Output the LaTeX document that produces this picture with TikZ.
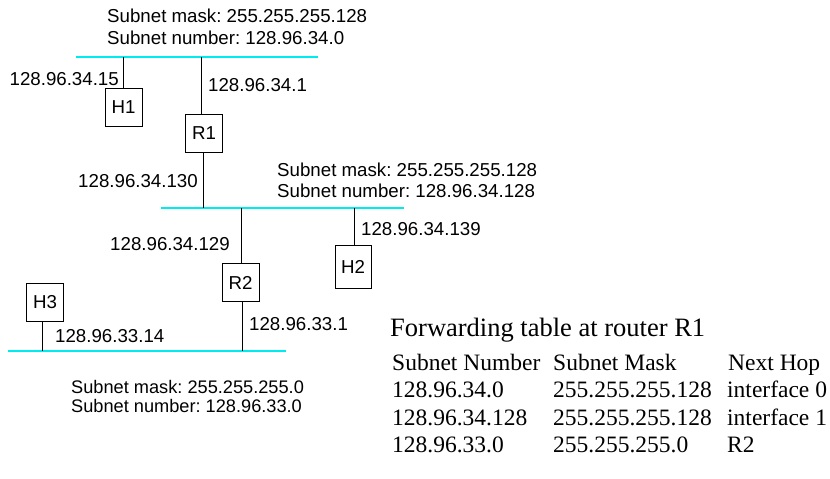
\documentclass[tikz,border=0pt]{standalone}
\usepackage{fontspec}
\setmainfont{Liberation Serif}
\setsansfont{Liberation Sans}
\usetikzlibrary{positioning}
\frenchspacing
\definecolor{lancyan}{RGB}{0,235,240}

\tikzset{
  lan/.style={lancyan, line width=2.2pt},
  link/.style={black, line width=0.9pt},
  hostbox/.style={draw, line width=0.9pt, minimum width=37pt, minimum height=38pt,
    inner sep=0pt, font=\sffamily\fontsize{18.7}{21}\selectfont},
  addr/.style={inner sep=0pt, font=\sffamily\fontsize{18.7}{21}\selectfont},
  subnetinfo/.style={inner sep=0pt, align=left, anchor=base west,
    font=\sffamily\fontsize{18.7}{21}\selectfont},
  tabtext/.style={inner sep=0pt, anchor=base west, font=\fontsize{23.5}{28}\selectfont}
}

\begin{document}
\begin{tikzpicture}[x=1pt, y=-1pt]
\useasboundingbox (0,0) rectangle (830,479);

% subnets (ethernet segments)
\coordinate (lanA-w) at (76,57);  \coordinate (lanA-e) at (318,57);
\coordinate (lanB-w) at (161,208); \coordinate (lanB-e) at (404,208);
\coordinate (lanC-w) at (8,351);  \coordinate (lanC-e) at (286,351);
\draw[lan] (lanA-w) -- (lanA-e); % 128.96.34.0
\draw[lan] (lanB-w) -- (lanB-e); % 128.96.34.128
\draw[lan] (lanC-w) -- (lanC-e); % 128.96.33.0

% hosts and routers
\node[hostbox] (H1) at (123.5,107.5) {H1};
\node[hostbox] (R1) at (204,133) {R1};
\node[hostbox] (R2) at (240.5,282.5) {R2};
\node[hostbox, minimum width=36pt, minimum height=43pt] (H2) at (353,266.5) {H2};
\node[hostbox] (H3) at (45,302) {H3};

% taps on the segments
\coordinate (tapH1) at (123,57);
\coordinate (tapR1a) at (201,57);
\coordinate (tapR1b) at (203,208);
\coordinate (tapR2a) at (241,208);
\coordinate (tapH2) at (354,208);
\coordinate (tapR2b) at (242,351);
\coordinate (tapH3) at (42,351);
\draw[link] (tapH1) -- (tapH1 |- H1.north);
\draw[link] (tapR1a) -- (tapR1a |- R1.north);
\draw[link] (R1.south -| tapR1b) -- (tapR1b);
\draw[link] (tapR2a) -- (tapR2a |- R2.north);
\draw[link] (tapH2) -- (tapH2 |- H2.north);
\draw[link] (R2.south -| tapR2b) -- (tapR2b);
\draw[link] (H3.south -| tapH3) -- (tapH3);

% interface addresses
\node[addr, anchor=base east] (aH1) at (119,85) {128.96.34.15};
\node[addr, anchor=base west] (aR1a) at (208,91) {128.96.34.1};
\node[addr, anchor=base east] (aR1b) at (198,187) {128.96.34.130};
\node[addr, anchor=base east] (aR2a) at (230,250) {128.96.34.129};
\node[addr, anchor=base west] (aH2) at (361,235) {128.96.34.139};
\node[addr, anchor=base west] (aR2b) at (249,330) {128.96.33.1};
\node[addr, anchor=base west] (aH3) at (55,342) {128.96.33.14};

% subnet labels (base = last line)
\node[subnetinfo] (infoA) at (107,44) {Subnet mask: 255.255.255.128\\Subnet number: 128.96.34.0};
\node[subnetinfo] (infoB) at (277,197) {Subnet mask: 255.255.255.128\\Subnet number: 128.96.34.128};
\node[subnetinfo, font=\sffamily\fontsize{18.2}{19}\selectfont] (infoC) at (71,412) {Subnet mask: 255.255.255.0\\Subnet number: 128.96.33.0};

% forwarding table
\node[tabtext, font=\fontsize{26.5}{30}\selectfont] (title) at (390,336) {Forwarding table at router R1};
\node[tabtext] (h1) at (392,370) {Subnet Number};
\node[tabtext] (h2) at (553,370) {Subnet Mask};
\node[tabtext] (h3) at (728,370) {Next Hop};
\node[tabtext] (r11) at (392,397) {128.96.34.0};
\node[tabtext] (r12) at (553,397) {255.255.255.128};
\node[tabtext] (r13) at (727,397) {interface 0};
\node[tabtext] (r21) at (392,425) {128.96.34.128};
\node[tabtext] (r22) at (553,425) {255.255.255.128};
\node[tabtext] (r23) at (727,425) {interface 1};
\node[tabtext] (r31) at (392,452) {128.96.33.0};
\node[tabtext] (r32) at (553,452) {255.255.255.0};
\node[tabtext] (r33) at (727,452) {R2};
\end{tikzpicture}
\end{document}
